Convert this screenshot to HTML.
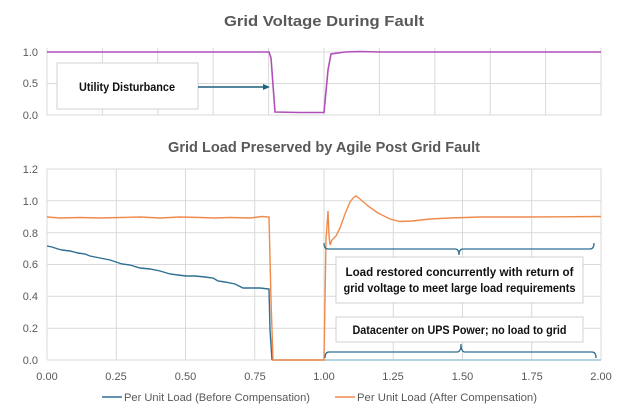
<!DOCTYPE html>
<html><head><meta charset="utf-8"><style>
html,body{margin:0;padding:0;background:#fff;}
svg{display:block;font-family:"Liberation Sans",sans-serif;}
</style></head><body>
<svg width="624" height="408" viewBox="0 0 624 408" xmlns="http://www.w3.org/2000/svg">
<rect width="624" height="408" fill="#fff"/>
<text x="324" y="26" text-anchor="middle" font-size="15" font-weight="bold" fill="#595959" textLength="200" lengthAdjust="spacingAndGlyphs">Grid Voltage During Fault</text>
<g stroke="#d9d9d9" stroke-width="1">
<line x1="47" y1="52" x2="601" y2="52"/><line x1="47" y1="83.5" x2="601" y2="83.5"/><line x1="47" y1="115" x2="601" y2="115"/>
<line x1="47" y1="48" x2="47" y2="115"/><line x1="102.4" y1="48" x2="102.4" y2="115"/><line x1="157.8" y1="48" x2="157.8" y2="115"/><line x1="213.2" y1="48" x2="213.2" y2="115"/><line x1="268.6" y1="48" x2="268.6" y2="115"/><line x1="324" y1="48" x2="324" y2="115"/><line x1="379.4" y1="48" x2="379.4" y2="115"/><line x1="434.8" y1="48" x2="434.8" y2="115"/><line x1="490.2" y1="48" x2="490.2" y2="115"/><line x1="545.6" y1="48" x2="545.6" y2="115"/><line x1="601" y1="48" x2="601" y2="115"/>
</g>
<g font-size="11" fill="#595959" text-anchor="end">
<text x="38" y="56">1.0</text><text x="38" y="87">0.5</text><text x="38" y="119">0.0</text>
</g>
<polyline fill="none" stroke="#b04fb8" stroke-width="1.6" points="47,52 269,52 271,58 275,112 300,112.5 324,112.5 328,70 331,54 345,52 360,51.5 380,52 601,52"/>
<rect x="57" y="63" width="141" height="46" fill="#fff" stroke="#d0d0d0"/>
<text x="127" y="91" text-anchor="middle" font-size="11.5" font-weight="bold" fill="#111" textLength="96" lengthAdjust="spacingAndGlyphs">Utility Disturbance</text>
<line x1="198" y1="87" x2="264" y2="87" stroke="#1f5f7f" stroke-width="1.6"/>
<polygon points="270,87 263,84 263,90" fill="#1f5f7f"/>

<text x="324" y="152" text-anchor="middle" font-size="15" font-weight="bold" fill="#595959" textLength="312" lengthAdjust="spacingAndGlyphs">Grid Load Preserved by Agile Post Grid Fault</text>
<g stroke="#d9d9d9" stroke-width="1">
<line x1="47" y1="169" x2="601" y2="169"/><line x1="47" y1="200.8" x2="601" y2="200.8"/><line x1="47" y1="232.7" x2="601" y2="232.7"/><line x1="47" y1="264.5" x2="601" y2="264.5"/><line x1="47" y1="296.3" x2="601" y2="296.3"/><line x1="47" y1="328.2" x2="601" y2="328.2"/><line x1="47" y1="360" x2="601" y2="360"/>
<line x1="47" y1="169" x2="47" y2="360"/><line x1="116.25" y1="169" x2="116.25" y2="360"/><line x1="185.5" y1="169" x2="185.5" y2="360"/><line x1="254.75" y1="169" x2="254.75" y2="360"/><line x1="324" y1="169" x2="324" y2="360"/><line x1="393.25" y1="169" x2="393.25" y2="360"/><line x1="462.5" y1="169" x2="462.5" y2="360"/><line x1="531.75" y1="169" x2="531.75" y2="360"/><line x1="601" y1="169" x2="601" y2="360"/>
</g>
<g font-size="11" fill="#595959" text-anchor="end">
<text x="38" y="173">1.2</text><text x="38" y="205">1.0</text><text x="38" y="237">0.8</text><text x="38" y="268">0.6</text><text x="38" y="300">0.4</text><text x="38" y="332">0.2</text><text x="38" y="364">0.0</text>
</g>
<g font-size="11" fill="#595959" text-anchor="middle">
<text x="47" y="380">0.00</text><text x="116" y="380">0.25</text><text x="185.5" y="380">0.50</text><text x="255" y="380">0.75</text><text x="324" y="380">1.00</text><text x="393" y="380">1.25</text><text x="462.5" y="380">1.50</text><text x="532" y="380">1.75</text><text x="601" y="380">2.00</text>
</g>
<polyline fill="none" stroke="#9ec5d6" stroke-width="1.4" points="272,360 601,360"/>
<polyline fill="none" stroke="#2e6f93" stroke-width="1.4" points="47,246 52,247 58,249 62,250 70,251 78,253 85,254 90,256 95,257 100,258 110,260 116,262 122,264 130,265 140,268 150,269 160,271 170,274 178,275 186,276 195,276 205,277 213,278 218,281 225,282 235,284 243,288 250,288 260,288 269,289 270,330 272,360"/>
<polyline fill="none" stroke="#f08a4b" stroke-width="1.4" points="47,217 60,218 80,217.5 100,218 120,217.5 140,217 160,218 180,217 200,217.5 215,218 230,217.5 250,218 262,216.5 269,217 271,300 273,360 324,360 325,300 326,240 328,211 329,235 330,245 332,240 336,236 340,228 345,214 350,202 354,197 356,196 360,199 368,206 378,213 390,219 400,221.5 412,221 430,219 450,218 480,217 520,217 560,216.8 601,216.5"/>
<g fill="none" stroke="#2e6f93" stroke-width="1.3">
<path d="M324,243 Q324,249 328,249 L455,249 Q459,249 459,255 Q459,249 463,249 L590,249 Q594,249 594,243"/>
<path d="M325,358 Q325,352 329,352 L457,352 Q461,352 461,344 Q461,352 465,352 L592,352 Q596,352 596,358"/>
</g>
<rect x="336" y="257" width="247" height="46" fill="#fff" stroke="#d0d0d0"/>
<text x="459.5" y="276" text-anchor="middle" font-size="11.5" font-weight="bold" fill="#111" textLength="228" lengthAdjust="spacingAndGlyphs">Load restored concurrently with return of</text>
<text x="459.5" y="292" text-anchor="middle" font-size="11.5" font-weight="bold" fill="#111" textLength="232" lengthAdjust="spacingAndGlyphs">grid voltage to meet large load requirements</text>
<rect x="336" y="317" width="247" height="25" fill="#fff" stroke="#d0d0d0"/>
<text x="459.5" y="334" text-anchor="middle" font-size="11.5" font-weight="bold" fill="#111" textLength="214" lengthAdjust="spacingAndGlyphs">Datacenter on UPS Power; no load to grid</text>

<line x1="102" y1="397" x2="122" y2="397" stroke="#2e6f93" stroke-width="1.6"/>
<text x="124" y="401" font-size="11" fill="#595959" textLength="186" lengthAdjust="spacingAndGlyphs">Per Unit Load (Before Compensation)</text>
<line x1="335" y1="397" x2="355" y2="397" stroke="#f08a4b" stroke-width="1.6"/>
<text x="357" y="401" font-size="11" fill="#595959" textLength="180" lengthAdjust="spacingAndGlyphs">Per Unit Load (After Compensation)</text>
</svg>
</body></html>
